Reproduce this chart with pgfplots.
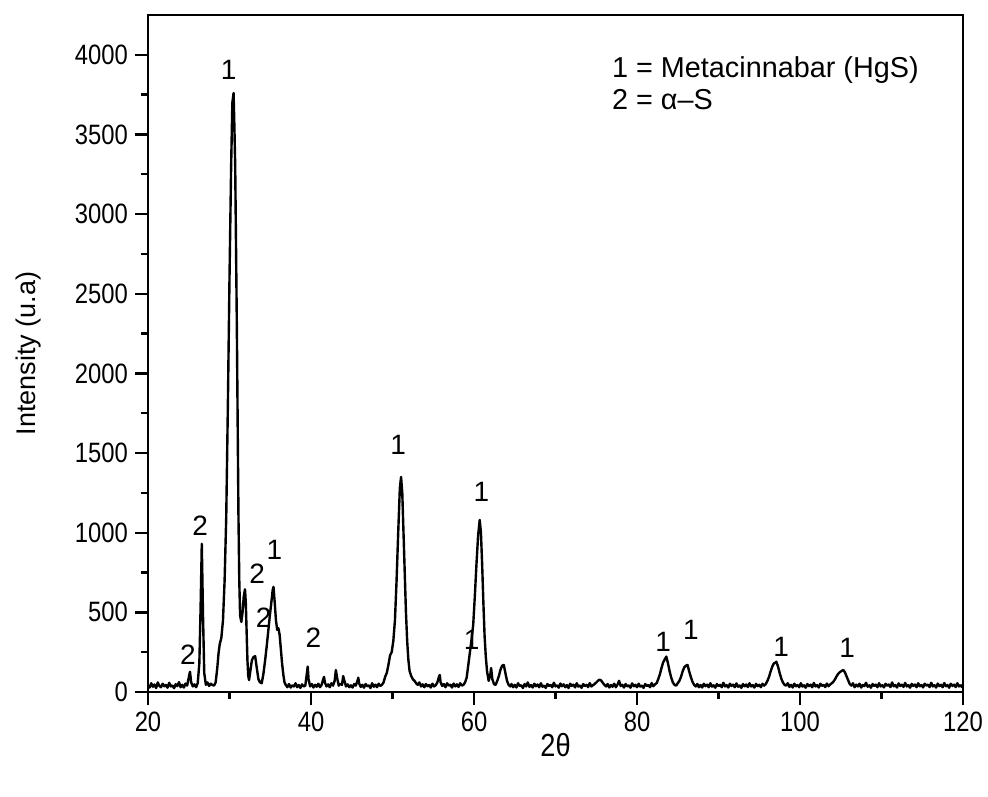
\documentclass[border=0pt]{standalone}
\usepackage{fontspec}
\setmainfont{Liberation Sans}
\newfontfamily\narrowfont[FakeStretch=0.85]{Liberation Sans}
\usepackage{pgfplots}
\pgfplotsset{compat=1.18}
\usepackage{pgfplotstable}
\pgfplotstableread{
x y
20.0 40
20.2 28
20.4 55
20.6 33
20.8 47
21.0 25
21.2 60
21.4 38
21.6 30
21.8 52
22.0 36
22.2 44
22.4 27
22.6 58
22.8 35
23.0 41
23.2 24
23.4 49
23.6 37
23.8 62
24.0 30
24.2 45
24.4 28
24.6 53
24.8 40
25.0 90
25.15 127
25.3 60
25.5 35
25.7 48
25.9 30
26.1 55
26.3 180
26.45 520
26.6 930
26.75 480
26.9 120
27.1 45
27.3 60
27.5 38
27.7 52
27.9 44
28.1 40
28.3 60
28.5 150
28.65 240
28.8 300
29.0 340
29.2 450
29.4 700
29.6 1100
29.8 1800
30.0 2600
30.2 3300
30.35 3700
30.5 3760
30.6 3550
30.7 3300
30.8 2800
30.9 2300
31.0 1700
31.1 1100
31.2 700
31.3 480
31.45 440
31.6 500
31.75 600
31.9 645
32.0 560
32.1 380
32.2 200
32.3 100
32.4 75
32.55 130
32.75 200
32.95 220
33.15 225
33.35 150
33.55 80
33.75 60
33.95 55
34.15 110
34.35 190
34.55 280
34.75 380
34.95 480
35.15 570
35.3 640
35.4 660
35.55 560
35.7 450
35.85 390
36.0 400
36.15 360
36.3 270
36.45 180
36.6 110
36.75 60
36.9 45
37.1 30
37.3 50
37.5 28
37.7 42
37.9 35
38.1 55
38.3 30
38.5 44
38.7 26
38.9 48
39.1 35
39.3 40
39.5 120
39.6 160
39.7 80
39.9 35
40.1 50
40.3 28
40.5 45
40.7 33
40.9 52
41.1 30
41.3 45
41.5 80
41.6 95
41.7 60
41.9 35
42.1 48
42.3 30
42.5 55
42.7 40
42.9 70
43.05 138
43.2 90
43.4 40
43.6 52
43.8 45
43.95 100
44.1 70
44.3 35
44.5 48
44.7 30
44.9 42
45.1 28
45.3 50
45.5 40
45.7 70
45.8 90
45.9 55
46.1 32
46.3 45
46.5 27
46.7 50
46.9 36
47.1 42
47.3 25
47.5 55
47.7 33
47.9 46
48.1 30
48.3 52
48.5 38
48.7 45
48.9 60
49.1 96
49.3 120
49.5 170
49.7 230
49.9 250
50.1 320
50.3 450
50.5 700
50.7 1000
50.9 1280
51.05 1350
51.2 1250
51.35 1000
51.5 750
51.65 500
51.8 320
51.95 200
52.1 130
52.3 100
52.5 80
52.7 70
52.9 55
53.1 45
53.3 60
53.5 35
53.7 48
53.9 30
54.1 50
54.3 36
54.5 44
54.7 28
54.9 52
55.1 35
55.3 42
55.5 60
55.7 95
55.8 107
55.9 60
56.1 38
56.3 50
56.5 30
56.7 55
56.9 40
57.1 46
57.3 28
57.5 53
57.7 35
57.9 48
58.1 32
58.3 55
58.5 40
58.7 45
58.9 60
59.1 90
59.3 170
59.5 250
59.7 330
59.9 420
60.1 600
60.3 800
60.5 980
60.7 1080
60.85 1000
61.0 800
61.15 560
61.3 350
61.45 220
61.6 130
61.8 70
62.0 110
62.1 150
62.25 80
62.45 50
62.65 45
62.85 70
63.05 100
63.25 140
63.45 165
63.65 170
63.85 120
64.05 70
64.25 45
64.45 35
64.6 50
64.8 30
65.0 45
65.2 28
65.4 55
65.6 38
65.8 42
66.0 25
66.2 50
66.4 35
66.6 60
66.8 32
67.0 44
67.2 28
67.4 52
67.6 36
67.8 47
68.0 30
68.2 55
68.4 33
68.6 40
68.8 26
69.0 50
69.2 38
69.4 45
69.6 30
69.8 58
70.0 35
70.2 42
70.4 27
70.6 53
70.8 36
71.0 48
71.2 30
71.4 44
71.6 25
71.8 52
72.0 38
72.2 46
72.4 29
72.6 55
72.8 34
73.0 41
73.2 26
73.4 50
73.6 37
73.8 45
74.0 31
74.2 56
74.4 35
74.6 43
74.8 50
75.0 60
75.2 70
75.4 78
75.6 72
75.8 58
76.0 45
76.2 35
76.4 50
76.6 28
76.8 44
77.0 33
77.2 52
77.4 30
77.6 46
77.8 70
78.0 38
78.2 45
78.4 28
78.6 50
78.8 35
79.0 42
79.2 27
79.4 54
79.6 36
79.8 45
80.0 30
80.2 52
80.4 34
80.6 40
80.8 26
81.0 50
81.2 38
81.4 44
81.6 30
81.8 56
82.0 36
82.2 48
82.4 55
82.6 80
82.8 110
83.0 150
83.2 185
83.4 205
83.6 222
83.8 180
84.0 130
84.2 90
84.4 60
84.6 45
84.8 40
85.0 55
85.2 70
85.4 95
85.6 130
85.8 155
86.0 165
86.2 170
86.4 130
86.6 95
86.8 65
87.0 45
87.2 35
87.4 50
87.6 30
87.8 44
88.0 28
88.2 52
88.4 36
88.6 46
88.8 30
89.0 55
89.2 34
89.4 42
89.6 27
89.8 50
90.0 37
90.2 45
90.4 30
90.6 58
90.8 35
91.0 43
91.2 28
91.4 52
91.6 38
91.8 46
92.0 30
92.2 54
92.4 33
92.6 41
92.8 26
93.0 50
93.2 36
93.4 47
93.6 31
93.8 55
94.0 35
94.2 43
94.4 28
94.6 51
94.8 37
95.0 45
95.2 30
95.4 52
95.6 40
95.8 50
96.0 70
96.2 95
96.4 130
96.6 160
96.8 180
97.0 185
97.1 190
97.3 160
97.5 120
97.7 85
97.9 60
98.1 45
98.3 40
98.5 55
98.7 32
98.9 45
99.1 28
99.3 52
99.5 36
99.7 44
99.9 30
100.1 55
100.3 34
100.5 42
100.7 27
100.9 50
101.1 37
101.3 46
101.5 30
101.7 57
101.9 35
102.1 43
102.3 28
102.5 52
102.7 38
102.9 45
103.1 31
103.3 53
103.5 36
103.7 47
103.9 55
104.1 65
104.3 80
104.5 100
104.7 115
104.9 125
105.1 132
105.3 138
105.5 125
105.7 100
105.9 75
106.1 50
106.3 40
106.5 55
106.7 30
106.9 46
107.1 35
107.3 52
107.5 28
107.7 44
107.9 37
108.1 58
108.3 33
108.5 42
108.7 27
108.9 50
109.1 38
109.3 46
109.5 30
109.7 55
109.9 35
110.1 43
110.3 29
110.5 52
110.7 39
110.9 47
111.1 31
111.3 60
111.5 36
111.7 44
111.9 28
112.1 54
112.3 38
112.5 46
112.7 32
112.9 57
113.1 35
113.3 43
113.5 27
113.7 51
113.9 38
114.1 47
114.3 30
114.5 55
114.7 36
114.9 44
115.1 29
115.3 52
115.5 40
115.7 46
115.9 31
116.1 58
116.3 35
116.5 43
116.7 28
116.9 53
117.1 37
117.3 45
117.5 30
117.7 56
117.9 36
118.1 44
118.3 27
118.5 52
118.7 38
118.9 46
119.1 31
119.3 55
119.5 35
119.7 43
119.9 30
120.0 50
}\xrd
\begin{document}
\begin{tikzpicture}
\useasboundingbox (-74pt,-52pt) rectangle (420pt,346pt);
\begin{axis}[
  scale only axis,
  width=407.5pt, height=338.5pt,
  xmin=20, xmax=120, ymin=0, ymax=4250,
  xtick={20,40,...,120},
  ytick={0,500,...,4000},
  minor x tick num=1,
  minor y tick num=1,
  xtick pos=bottom, ytick pos=left,
  tick align=outside,
  major tick length=6.5pt,
  minor tick length=3.5pt,
  axis line style={line width=1.4pt},
  every tick/.style={line width=1.2pt, black},
  /pgf/number format/assume math mode=true,
  /pgf/number format/1000 sep={},
  ticklabel style={font=\narrowfont\fontsize{14}{16}\selectfont},
  xlabel={2θ},
  ylabel={Intensity (u.a)},
  xlabel style={font=\narrowfont\fontsize{16}{18}\selectfont, at={(axis description cs:0.5,-0.0783)}, anchor=center},
  ylabel style={font=\fontsize{13.5}{16}\selectfont, at={(axis description cs:-0.1472,0.5)}, anchor=center},
  clip=false,
]
\addplot[black, line width=1.2pt, line join=round] table[x=x, y=y] {\xrd};
\begin{scope}[every node/.style={font=\fontsize{14}{16}\selectfont, inner sep=0pt}]
\node at (axis cs:24.9,232) {2};
\node at (axis cs:26.4,1042) {2};
\node at (axis cs:29.9,3906) {1};
\node at (axis cs:33.4,745) {2};
\node at (axis cs:34.2,465) {2};
\node at (axis cs:35.5,892) {1};
\node at (axis cs:40.3,341) {2};
\node at (axis cs:50.7,1551) {1};
\node at (axis cs:59.7,327) {1};
\node at (axis cs:60.9,1258) {1};
\node at (axis cs:83.2,316) {1};
\node at (axis cs:86.6,389) {1};
\node at (axis cs:97.7,285) {1};
\node at (axis cs:105.8,274) {1};
\node[anchor=west, font=\fontsize{14.4}{16}\selectfont] at (axis cs:76.9,3906) {1 = Metacinnabar (HgS)};
\node[anchor=west, font=\fontsize{14.4}{16}\selectfont] at (axis cs:76.9,3718) {2 = α–S};
\end{scope}
\end{axis}
\end{tikzpicture}
\end{document}
